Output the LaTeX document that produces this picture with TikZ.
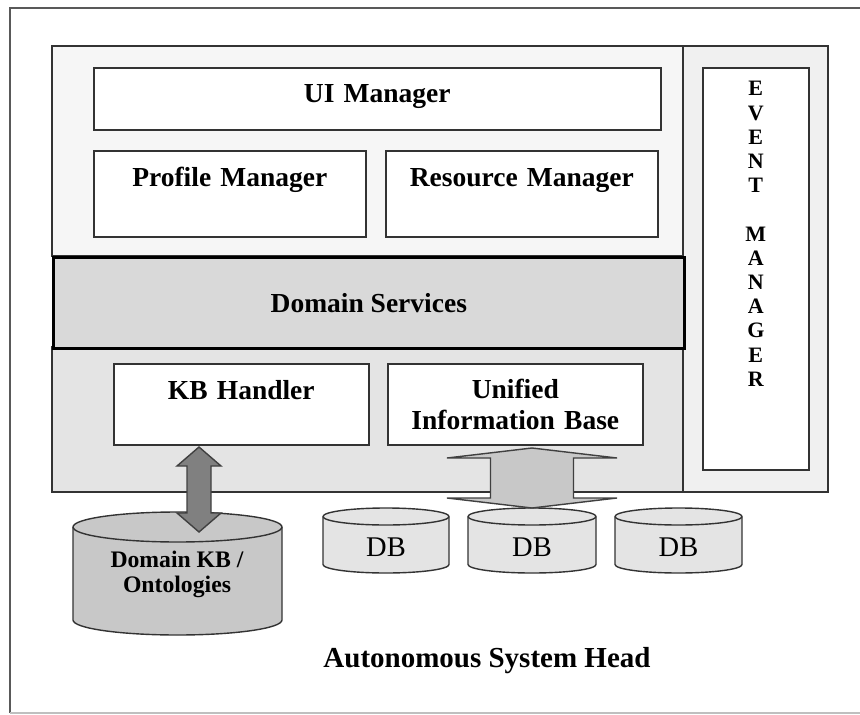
\documentclass[tikz,border=0pt]{standalone}
\usepackage{fontspec}
\setmainfont{Liberation Serif}
\usepackage{tikz}
\usetikzlibrary{calc,positioning}
\definecolor{toppanel}{HTML}{F6F6F6}
\definecolor{evtpanel}{HTML}{F0F0F0}
\definecolor{lowpanel}{HTML}{E4E4E4}
\definecolor{bandgray}{HTML}{D9D9D9}
\definecolor{kbgray}{HTML}{C8C8C8}
\definecolor{arrowgray}{HTML}{808080}
\tikzset{
  panel/.style={draw=black!80, line width=1.6pt},
  mgrbox/.style={draw=black!80, line width=1.6pt, fill=white, anchor=north west,
    inner sep=0pt, align=center, font=\bfseries\fontsize{27.5}{31}\selectfont},
  dbcyl/.style={draw=black!80, line width=1.4pt, fill=lowpanel},
  dblabel/.style={font=\fontsize{28.5}{30}\selectfont},
  blockarrow/.style={draw=black!75, line width=1.4pt, line join=miter},
}
% vertical double block arrow: x, top tip, bottom tip, head half width, shaft half width, head length
\newcommand{\dblblock}[7]{%
  \draw[blockarrow, fill=#7] (#1,#2) -- ({#1+#4},{#2+#6}) -- ({#1+#5},{#2+#6})
    -- ({#1+#5},{#3-#6}) -- ({#1+#4},{#3-#6}) -- (#1,#3) -- ({#1-#4},{#3-#6})
    -- ({#1-#5},{#3-#6}) -- ({#1-#5},{#2+#6}) -- ({#1-#4},{#2+#6}) -- cycle;}
\begin{document}
\begin{tikzpicture}[x=1pt,y=-1pt]
        \useasboundingbox (0,0) rectangle (860,715);
        % outer frame
        \draw[black!65, line width=1.5pt] (10,713) -- (10,8) -- (875,8);
        \draw[black!25, line width=1.2pt] (10,713) -- (875,713);

        % panels of the head
        \draw[panel, fill=toppanel] (52,46) rectangle (683,256);
        \draw[panel, fill=lowpanel] (52,347) rectangle (683,492);
        \draw[panel, fill=evtpanel] (683,46) rectangle (828,492);
        \node[draw=black, line width=2.6pt, fill=bandgray, anchor=north west, inner sep=0pt,
          minimum width=631pt, minimum height=91pt,
          font=\bfseries\fontsize{27.5}{31}\selectfont] (ds) at (52,256) {Domain Services};

        % manager boxes
        \node[mgrbox, text width=567pt, text height=35pt, text depth=27pt] (ui) at (93,67) {UI Manager};
        \node[mgrbox, text width=272pt, text height=36pt, text depth=50pt] (pm) at (93,150) {Profile Manager};
        \node[mgrbox, text width=272pt, text height=36pt, text depth=50pt] (rm) at (385,150) {Resource Manager};
        \node[mgrbox, text width=255pt, text height=36pt, text depth=45pt] (kbh) at (113,363) {KB Handler};
        \node[mgrbox, text width=255pt, text height=35pt, text depth=46pt] (uib) at (387,363) {Unified\\Information Base};
        \node[mgrbox, text width=106pt, text height=28pt, text depth=374pt,
          font=\bfseries\fontsize{22}{24.2}\selectfont] (em) at (702,67)
          {E\\V\\E\\N\\T\\[24.2pt]M\\A\\N\\A\\G\\E\\R};

        % domain KB
        \draw[dbcyl, fill=kbgray] (73,527) -- (73,620) arc[start angle=180, end angle=0, x radius=104.5, y radius=15]
          -- (282,527) arc[start angle=0, end angle=-180, x radius=104.5, y radius=15] -- cycle;
        \draw[dbcyl, fill=none] (73,527) arc[start angle=180, end angle=0, x radius=104.5, y radius=15];
        \node[align=center, font=\bfseries\fontsize{23.7}{25}\selectfont] (kbdb) at (177,574) {Domain KB /\\Ontologies};

        % databases
        \draw[dbcyl] (323,516.5) -- (323,564.5) arc[start angle=180, end angle=0, x radius=63, y radius=8.5]
          -- (449,516.5) arc[start angle=0, end angle=-180, x radius=63, y radius=8.5] -- cycle;
        \draw[dbcyl, fill=none] (323,516.5) arc[start angle=180, end angle=0, x radius=63, y radius=8.5];
        \draw[dbcyl] (468,516.5) -- (468,564.5) arc[start angle=180, end angle=0, x radius=64, y radius=8.5]
          -- (596,516.5) arc[start angle=0, end angle=-180, x radius=64, y radius=8.5] -- cycle;
        \draw[dbcyl, fill=none] (468,516.5) arc[start angle=180, end angle=0, x radius=64, y radius=8.5];
        \draw[dbcyl] (615,516.5) -- (615,564.5) arc[start angle=180, end angle=0, x radius=63.5, y radius=8.5]
          -- (742,516.5) arc[start angle=0, end angle=-180, x radius=63.5, y radius=8.5] -- cycle;
        \draw[dbcyl, fill=none] (615,516.5) arc[start angle=180, end angle=0, x radius=63.5, y radius=8.5];
        \node[dblabel] (db1) at (386,547) {DB};
        \node[dblabel] (db2) at (532,547) {DB};
        \node[dblabel] (db3) at (678.5,547) {DB};

        % block arrows
        \dblblock{199}{447}{532}{22}{12}{19}{arrowgray}
        \dblblock{532}{448}{508}{85}{41.5}{10}{kbgray}

        % caption
        \node[anchor=base, font=\bfseries\fontsize{29}{30}\selectfont] (ash) at (487,667) {Autonomous System Head};
\end{tikzpicture}
\end{document}
